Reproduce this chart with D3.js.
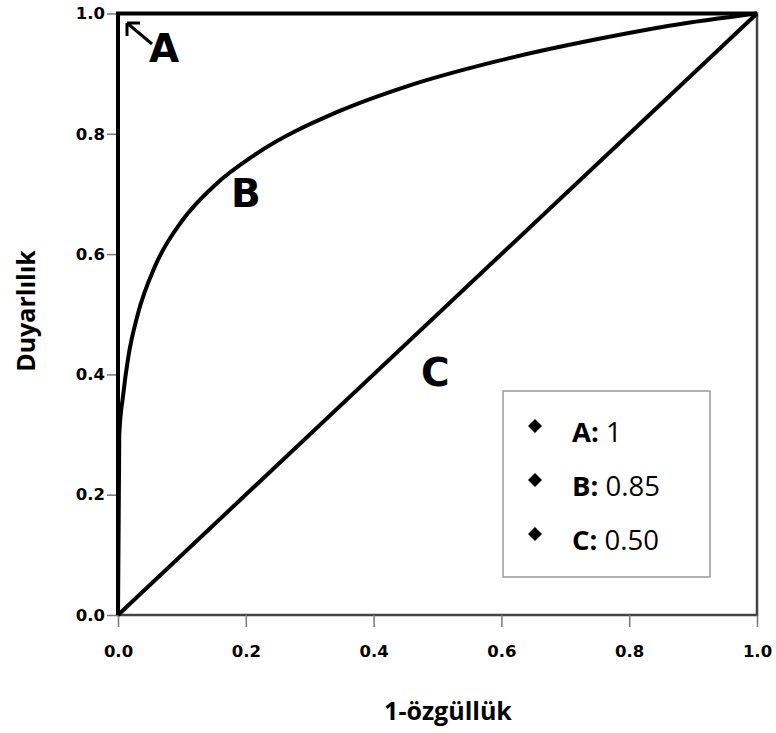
<!DOCTYPE html>
<html>
<head>
<meta charset="utf-8">
<script src="https://cdn.jsdelivr.net/npm/d3@7"></script>
<style>
  body { margin: 0; background: #fff; }
  svg { display: block; }
</style>
</head>
<body>
<svg id="chart" width="776" height="733"></svg>
<script>
// tick values on both axes
const xTicks = [0, 0.2, 0.4, 0.6, 0.8, 1.0];
const yTicks = [0, 0.2, 0.4, 0.6, 0.8, 1.0];

// curve A: perfect test
const curveAx = [0, 0, 1];
const curveAy = [0, 1, 1];

// curve B (1-specificity, sensitivity)
const curveBx = [0, 0.002, 0.008, 0.016, 0.031, 0.058, 0.10, 0.152, 0.214, 0.347, 0.452, 0.59, 0.739, 0.895, 1];
const curveBy = [0, 0.30, 0.365, 0.428, 0.50, 0.58, 0.655, 0.715, 0.765, 0.838, 0.879, 0.92, 0.955, 0.985, 1];

// curve C: chance line
const curveCx = [0, 1];
const curveCy = [0, 1];

const legendNames = ["A", "B", "C"];
const legendValues = ["1", "0.85", "0.50"];

const svg = d3.select("#chart");

const x = d3.scaleLinear().domain([0, 1]).range([118, 757]);
const y = d3.scaleLinear().domain([0, 1]).range([615, 13.5]);

const zip = (xs, ys) => xs.map((v, i) => [v, ys[i]]);

// frame
svg.append("rect")
  .attr("x", x(0)).attr("y", y(1))
  .attr("width", x(1) - x(0)).attr("height", y(0) - y(1))
  .attr("fill", "none")
  .attr("stroke", "#444")
  .attr("stroke-width", 2.5);

// axes
const xAxis = svg.append("g")
  .attr("transform", "translate(0," + y(0) + ")")
  .call(d3.axisBottom(x).tickValues(xTicks).tickFormat(d3.format(".1f")).tickSize(12).tickPadding(18));

const yAxis = svg.append("g")
  .attr("transform", "translate(" + x(0) + ",0)")
  .call(d3.axisLeft(y).tickValues(yTicks).tickFormat(d3.format(".1f")).tickSize(11).tickPadding(2));

[xAxis, yAxis].forEach(function (g) {
  g.select(".domain").remove();
  g.selectAll(".tick line").attr("stroke", "#777").attr("stroke-width", 1.5);
  g.selectAll(".tick text")
    .attr("fill", "#000")
    .style("font-family", "'DejaVu Sans', sans-serif")
    .style("font-weight", "bold")
    .style("font-size", "16.5px");
});

// curves
const line = d3.line().x(d => x(d[0])).y(d => y(d[1]));

svg.append("path")
  .datum(zip(curveAx, curveAy))
  .attr("d", line)
  .attr("fill", "none")
  .attr("stroke", "#000")
  .attr("stroke-width", 4);

svg.append("path")
  .datum(zip(curveCx, curveCy))
  .attr("d", line)
  .attr("fill", "none")
  .attr("stroke", "#000")
  .attr("stroke-width", 4);

svg.append("path")
  .datum(zip(curveBx, curveBy))
  .attr("d", line.curve(d3.curveMonotoneX))
  .attr("fill", "none")
  .attr("stroke", "#000")
  .attr("stroke-width", 4);

// curve letters
const letterStyle = function (t) {
  t.attr("fill", "#000")
    .style("font-family", "'DejaVu Sans', sans-serif")
    .style("font-weight", "bold")
    .style("font-size", "39px");
};
svg.append("text").attr("x", 149).attr("y", 62).text("A").call(letterStyle);
svg.append("text").attr("x", 231).attr("y", 207).text("B").call(letterStyle);
svg.append("text").attr("x", 421).attr("y", 386).text("C").call(letterStyle);

// arrow pointing at the corner
svg.append("path")
  .attr("d", "M152,44 L127,23 M127,23 L140,23 M127,23 L127,36")
  .attr("fill", "none")
  .attr("stroke", "#000")
  .attr("stroke-width", 3);

// legend
const legend = svg.append("g");
legend.append("rect")
  .attr("x", 503).attr("y", 391)
  .attr("width", 207).attr("height", 186)
  .attr("fill", "#fff")
  .attr("stroke", "#999")
  .attr("stroke-width", 1.5);

const rows = legend.selectAll(".row")
  .data(legendNames)
  .join("g")
  .attr("class", "row")
  .attr("transform", (d, i) => "translate(0," + (442 + i * 54) + ")");

rows.append("path")
  .attr("d", "M535,-23 L542,-16 L535,-9 L528,-16 Z")
  .attr("fill", "#000");

const label = rows.append("text")
  .attr("x", 572)
  .attr("y", 0)
  .attr("fill", "#000")
  .style("font-family", "'Open Sans', sans-serif")
  .style("font-size", "27.5px");
label.append("tspan").style("font-weight", "bold").text(d => d + ":");
label.append("tspan").text((d, i) => " " + legendValues[i]);

// axis titles
svg.append("text")
  .attr("x", 448).attr("y", 720)
  .attr("text-anchor", "middle")
  .attr("fill", "#000")
  .style("font-family", "'Open Sans', sans-serif")
  .style("font-weight", "bold")
  .style("font-size", "25px")
  .text("1-özgüllük");

svg.append("text")
  .attr("transform", "translate(35,311) rotate(-90)")
  .attr("text-anchor", "middle")
  .attr("fill", "#000")
  .style("font-family", "'Open Sans', sans-serif")
  .style("font-weight", "bold")
  .style("font-size", "25px")
  .text("Duyarlılık");
</script>
</body>
</html>
